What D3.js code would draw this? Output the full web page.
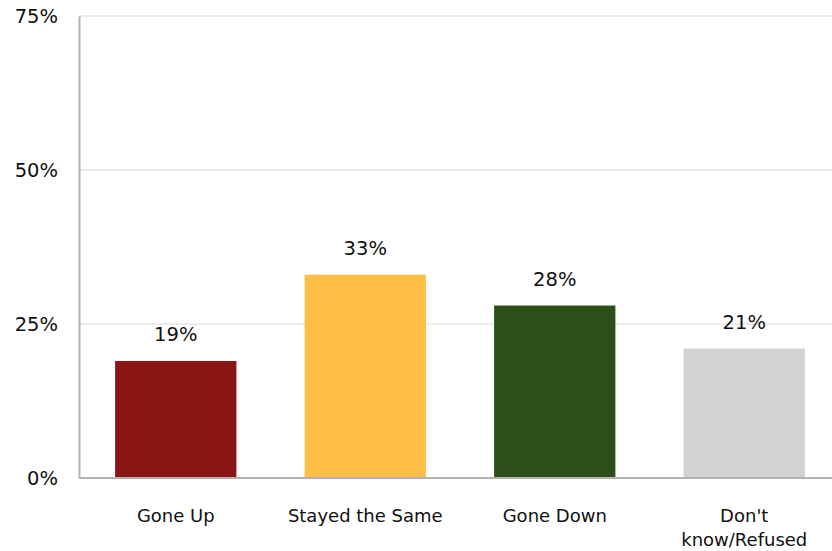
<!DOCTYPE html>
<html><head><meta charset="utf-8">
<script src="https://cdn.jsdelivr.net/npm/d3@7"></script>
<style>body{margin:0;background:#fff}svg{display:block}text{font-family:"DejaVu Sans",Verdana,sans-serif;fill:#111}</style>
</head><body><svg id="c" width="832" height="551"></svg>
<script>
const categories = ["Gone Up", "Stayed the Same", "Gone Down", "Don't know/Refused"];
const values = [19, 33, 28, 21];
const colors = ["#8B1515", "#FDBE47", "#2C4F17", "#D1D2D4"];
const yTicks = [0, 25, 50, 75];

const svg = d3.select("#c");
const m = {l: 79, t: 16, b: 73};
const W = 832, H = 551;
const font = '"DejaVu Sans",Verdana,sans-serif';
const x = d3.scaleBand().domain(categories).range([81, 81 + 4*189.5]).paddingInner(0.36).paddingOuter(0.18);
const y = d3.scaleLinear().domain([0, 75]).range([H - m.b, m.t]);

// grid
svg.append("g").selectAll("line").data(yTicks.filter(d => d > 0)).join("line")
  .attr("x1", m.l).attr("x2", W).attr("y1", d => y(d)).attr("y2", d => y(d))
  .attr("stroke", "#e4e4e4").attr("stroke-width", 1.5);

// bars
svg.append("g").selectAll("rect").data(values).join("rect")
  .attr("x", (d, i) => x(categories[i])).attr("width", x.bandwidth())
  .attr("y", d => y(d)).attr("height", d => y(0) - y(d))
  .attr("fill", (d, i) => colors[i]);

// value labels
svg.append("g").selectAll("text").data(values).join("text")
  .attr("x", (d, i) => x(categories[i]) + x.bandwidth()/2)
  .attr("y", d => y(d) - 20).attr("text-anchor", "middle")
  .style("font-size", "19.5px").text(d => d + "%");

// y axis
const ya = svg.append("g").attr("transform", `translate(${m.l},0)`)
  .call(d3.axisLeft(y).tickValues(yTicks).tickFormat(d => d + "%").tickSize(0).tickPadding(21));
ya.select(".domain").attr("stroke", "#b3b3b3").attr("stroke-width", 2);
ya.selectAll("text").style("font-size", "19.5px").style("font-family", font).attr("fill", "#111");

// x axis
const xa = svg.append("g").attr("transform", `translate(0,${y(0)})`)
  .call(d3.axisBottom(x).tickSize(0).tickPadding(0));
xa.select(".domain").remove();
svg.append("line").attr("x1", m.l).attr("x2", W).attr("y1", y(0)).attr("y2", y(0))
  .attr("stroke", "#b3b3b3").attr("stroke-width", 2);
xa.selectAll(".tick text").each(function(d) {
  const t = d3.select(this);
  t.text(null).attr("y", 0).attr("dy", null).style("font-size", "18px").style("font-family", font).attr("fill", "#111");
  const lines = d === "Don't know/Refused" ? ["Don't", "know/Refused"] : [d];
  lines.forEach((s, i) => t.append("tspan").attr("x", 0).attr("y", 44 + i*24).text(s));
});
</script></body></html>
